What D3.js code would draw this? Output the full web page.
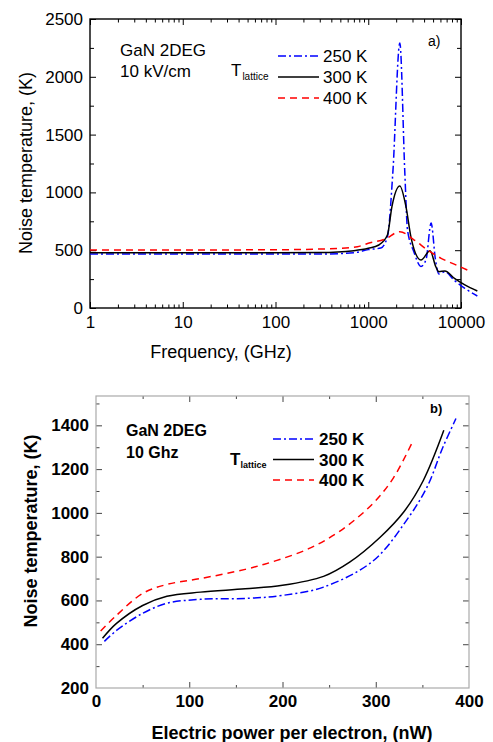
<!DOCTYPE html>
<html>
<head>
<meta charset="utf-8">
<script src="https://cdn.jsdelivr.net/npm/d3@7"></script>
<style>
  body { margin: 0; background: #fff; }
  svg { display: block; }
  text { font-family: "Liberation Sans", Arial, sans-serif; fill: #000; }
</style>
</head>
<body>
<div id="chart"></div>
<script>
// ---- panel a data: noise temperature vs frequency ----
const freq250 = [1, 10, 100, 300, 700, 1000, 1365, 1610, 1840, 2190, 2480, 2650, 3100, 3700, 4200, 4760, 5300, 5770, 6700, 8400, 11000, 15000];
const temp250 = [467, 467, 467, 467, 478, 505, 519, 617, 1167, 2292, 1167, 675, 487, 360, 420, 735, 420, 294, 314, 242, 170, 104];

const freq300 = [1, 10, 100, 300, 700, 1000, 1300, 1610, 1800, 2190, 2550, 2900, 3700, 4640, 5350, 5770, 6700, 8500, 11000, 15000];
const temp300 = [478, 478, 478, 480, 496, 516, 545, 631, 877, 1055, 877, 605, 415, 496, 357, 314, 320, 257, 200, 147];

const freq400 = [1, 10, 100, 500, 765, 1000, 1500, 2190, 3130, 4350, 6100, 9000, 12800];
const temp400 = [502, 502, 504, 516, 530, 560, 594, 660, 588, 502, 430, 370, 314];

const xTicksA = [1, 10, 100, 1000, 10000];
const yTicksA = [0, 500, 1000, 1500, 2000, 2500];

// ---- panel b data: noise temperature vs electric power per electron ----
const pow250 = [9, 22, 50, 76, 112, 165, 200, 244, 297, 333, 355, 372, 386];
const tn250 = [413, 463, 541, 587, 605, 610, 623, 661, 780, 966, 1118, 1300, 1431];

const pow300 = [7, 22, 50, 76, 112, 160, 200, 244, 272, 305, 330, 351, 373];
const tn300 = [427, 495, 577, 619, 638, 653, 669, 710, 775, 890, 1004, 1148, 1377];

const pow400 = [5, 20, 50, 76, 112, 160, 194, 230, 262, 297, 319, 340];
const tn400 = [460, 524, 632, 673, 700, 742, 783, 840, 918, 1043, 1160, 1330];

const xTicksB = [0, 100, 200, 300, 400];
const yTicksB = [200, 400, 600, 800, 1000, 1200, 1400];

const legendLabels = ["250 K", "300 K", "400 K"];

const W = 493, H = 742;
const svg = d3.select("#chart").append("svg")
  .attr("width", W).attr("height", H);

const styles = [
  {color: "#0000ff", dash: "8,3,2,3"},
  {color: "#000000", dash: null},
  {color: "#ff0000", dash: "7,5"}
];

function zip(xs, ys) { return xs.map((x, i) => [x, ys[i]]); }

// ================= panel a =================
{
  const L = 90, R = 461, T = 19, B = 308;
  const x = d3.scaleLog().domain([1, 10000]).range([L, R]);
  const y = d3.scaleLinear().domain([0, 2500]).range([B, T]);
  const g = svg.append("g");

  const allX = x.ticks();              // 1,2,...,10000
  const isMajor = v => xTicksA.includes(v);
  const minorY = d3.range(0, 2501, 250).filter(v => !yTicksA.includes(v));

  // bottom + top ticks
  [[B, -1], [T, 1]].forEach(([yy, dir]) => {
    g.append("g").attr("transform", `translate(0,${yy})`)
      .call(d3.axisBottom(x).tickValues(allX).tickFormat("")
        .tickSizeInner(0).tickSizeOuter(0))
      .call(a => a.select(".domain").remove())
      .call(a => a.selectAll(".tick line")
        .attr("y2", d => dir * (isMajor(d) ? 6 : 3.5))
        .attr("stroke", "#000").attr("stroke-width", 1));
  });
  // left + right ticks
  [[L, 1], [R, -1]].forEach(([xx, dir]) => {
    g.append("g").attr("transform", `translate(${xx},0)`)
      .call(d3.axisLeft(y).tickValues(yTicksA.concat(minorY)).tickFormat("")
        .tickSizeInner(0).tickSizeOuter(0))
      .call(a => a.select(".domain").remove())
      .call(a => a.selectAll(".tick line")
        .attr("x2", d => dir * (yTicksA.includes(d) ? 6 : 4))
        .attr("stroke", "#000").attr("stroke-width", 1));
  });

  // labels
  g.append("g").attr("transform", `translate(0,${B})`)
    .call(d3.axisBottom(x).tickValues(xTicksA).tickFormat(d3.format("d"))
      .tickSize(0).tickPadding(8))
    .call(a => a.select(".domain").remove())
    .call(a => a.selectAll("text").attr("font-size", 17)
      .attr("font-family", "Liberation Sans, Arial, sans-serif"));
  g.append("g").attr("transform", `translate(${L},0)`)
    .call(d3.axisLeft(y).tickValues(yTicksA).tickFormat(d3.format("d"))
      .tickSize(0).tickPadding(7))
    .call(a => a.select(".domain").remove())
    .call(a => a.selectAll("text").attr("font-size", 17)
      .attr("font-family", "Liberation Sans, Arial, sans-serif"));

  g.append("rect").attr("x", L).attr("y", T).attr("width", R - L).attr("height", B - T)
    .attr("fill", "none").attr("stroke", "#000").attr("stroke-width", 1.4);

  const line = d3.line().x(d => x(d[0])).y(d => y(d[1])).curve(d3.curveMonotoneX);
  const series = [zip(freq250, temp250), zip(freq300, temp300), zip(freq400, temp400)];
  series.forEach((s, i) => {
    g.append("path").datum(s).attr("d", line)
      .attr("fill", "none").attr("stroke", styles[i].color)
      .attr("stroke-width", 1.5)
      .attr("stroke-dasharray", styles[i].dash);
  });

  g.append("text").attr("x", 221).attr("y", 358).attr("text-anchor", "middle")
    .attr("font-size", 18).text("Frequency, (GHz)");
  g.append("text").attr("transform", `translate(32,163) rotate(-90)`)
    .attr("text-anchor", "middle").attr("font-size", 18).text("Noise temperature, (K)");

  g.append("text").attr("x", 120).attr("y", 56).attr("font-size", 17).text("GaN 2DEG");
  g.append("text").attr("x", 120).attr("y", 77).attr("font-size", 17).text("10 kV/cm");
  g.append("text").attr("x", 428).attr("y", 46).attr("font-size", 14).text("a)");

  const tl = g.append("text").attr("x", 231).attr("y", 76).attr("font-size", 17);
  tl.append("tspan").text("T");
  tl.append("tspan").attr("font-size", 10).attr("dy", 4).attr("dx", 1).text("lattice");

  legendLabels.forEach((lab, i) => {
    const yy = 56 + i * 21;
    g.append("line").attr("x1", 278).attr("x2", 319).attr("y1", yy).attr("y2", yy)
      .attr("stroke", styles[i].color).attr("stroke-width", 1.5)
      .attr("stroke-dasharray", styles[i].dash);
    g.append("text").attr("x", 323).attr("y", yy + 6).attr("font-size", 17).text(lab);
  });
}

// ================= panel b =================
{
  const L = 96, R = 469, T = 396, B = 688;
  const x = d3.scaleLinear().domain([0, 400]).range([L, R]);
  const y = d3.scaleLinear().domain([200, 1534]).range([B, T]);
  const g = svg.append("g");

  const xMinor = d3.range(50, 400, 100);
  const yMinor = d3.range(300, 1534, 200);

  [[B, -1], [T, 1]].forEach(([yy, dir]) => {
    g.append("g").attr("transform", `translate(0,${yy})`)
      .call(d3.axisBottom(x).tickValues(xTicksB.slice(1, -1).concat(xMinor)).tickFormat("")
        .tickSizeInner(0).tickSizeOuter(0))
      .call(a => a.select(".domain").remove())
      .call(a => a.selectAll(".tick line")
        .attr("y2", d => dir * (xTicksB.includes(d) ? 6 : 3))
        .attr("stroke", "#444").attr("stroke-width", 1));
  });
  [[L, 1], [R, -1]].forEach(([xx, dir]) => {
    g.append("g").attr("transform", `translate(${xx},0)`)
      .call(d3.axisLeft(y).tickValues(yTicksB.slice(1).concat(yMinor)).tickFormat("")
        .tickSizeInner(0).tickSizeOuter(0))
      .call(a => a.select(".domain").remove())
      .call(a => a.selectAll(".tick line")
        .attr("x2", d => dir * (yTicksB.includes(d) ? 6 : 3.5))
        .attr("stroke", "#444").attr("stroke-width", 1));
  });

  g.append("g").attr("transform", `translate(0,${B})`)
    .call(d3.axisBottom(x).tickValues(xTicksB).tickFormat(d3.format("d"))
      .tickSize(0).tickPadding(7))
    .call(a => a.select(".domain").remove())
    .call(a => a.selectAll("text").attr("font-size", 17).attr("font-weight", "bold")
      .attr("font-family", "Liberation Sans, Arial, sans-serif"));
  g.append("g").attr("transform", `translate(${L},0)`)
    .call(d3.axisLeft(y).tickValues(yTicksB).tickFormat(d3.format("d"))
      .tickSize(0).tickPadding(7))
    .call(a => a.select(".domain").remove())
    .call(a => a.selectAll("text").attr("font-size", 17).attr("font-weight", "bold")
      .attr("font-family", "Liberation Sans, Arial, sans-serif"));

  g.append("rect").attr("x", L).attr("y", T).attr("width", R - L).attr("height", B - T)
    .attr("fill", "none").attr("stroke", "#aaa").attr("stroke-width", 1.2);

  const line = d3.line().x(d => x(d[0])).y(d => y(d[1])).curve(d3.curveCatmullRom.alpha(0.5));
  const series = [zip(pow250, tn250), zip(pow300, tn300), zip(pow400, tn400)];
  series.forEach((s, i) => {
    g.append("path").datum(s).attr("d", line)
      .attr("fill", "none").attr("stroke", styles[i].color)
      .attr("stroke-width", 1.5)
      .attr("stroke-dasharray", styles[i].dash);
  });

  g.append("text").attr("x", 292).attr("y", 739).attr("text-anchor", "middle")
    .attr("font-size", 18).attr("font-weight", "bold").text("Electric power per electron, (nW)");
  g.append("text").attr("transform", `translate(37,531) rotate(-90)`)
    .attr("text-anchor", "middle").attr("font-size", 18).attr("font-weight", "bold")
    .text("Noise temperature, (K)");

  g.append("text").attr("x", 126).attr("y", 436).attr("font-size", 16).attr("font-weight", "bold").text("GaN 2DEG");
  g.append("text").attr("x", 126).attr("y", 458).attr("font-size", 16).attr("font-weight", "bold").text("10 Ghz");
  g.append("text").attr("x", 430).attr("y", 413).attr("font-size", 13).attr("font-weight", "bold").text("b)");

  const tl = g.append("text").attr("x", 230).attr("y", 465).attr("font-size", 17).attr("font-weight", "bold");
  tl.append("tspan").text("T");
  tl.append("tspan").attr("font-size", 9).attr("dy", 3).attr("dx", 0).text("lattice");

  legendLabels.forEach((lab, i) => {
    const yy = 439 + i * 20.5;
    g.append("line").attr("x1", 273).attr("x2", 314).attr("y1", yy).attr("y2", yy)
      .attr("stroke", styles[i].color).attr("stroke-width", 1.5)
      .attr("stroke-dasharray", styles[i].dash);
    g.append("text").attr("x", 319).attr("y", yy + 6).attr("font-size", 17).attr("font-weight", "bold").text(lab);
  });
}
</script>
</body>
</html>
